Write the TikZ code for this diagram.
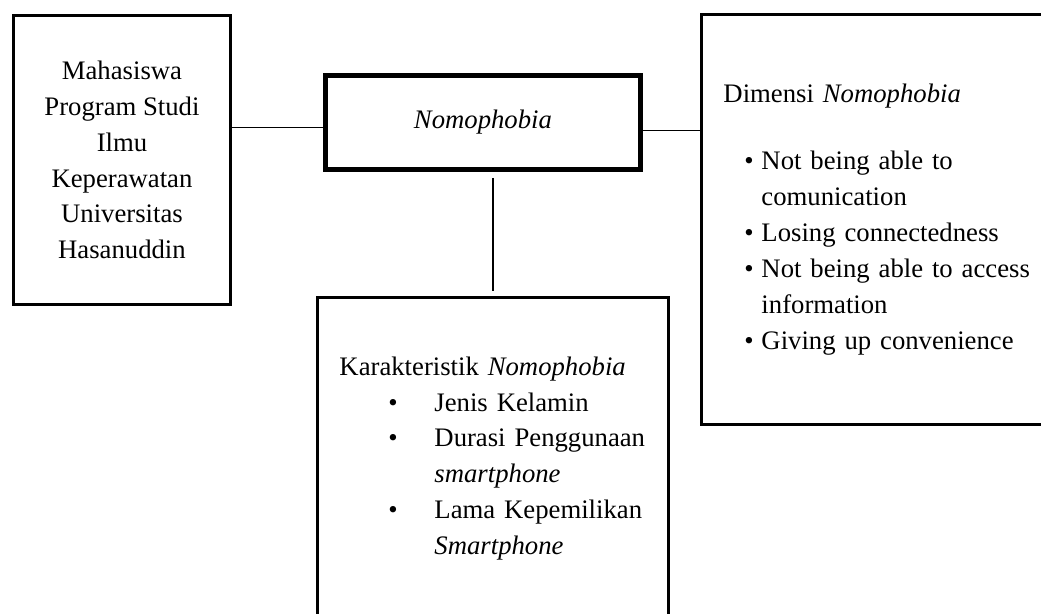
\documentclass[tikz,border=0pt]{standalone}
\usepackage{fontspec}
\setmainfont{Liberation Serif}
\begin{document}
\begin{tikzpicture}[x=0.02cm,y=-0.02cm,
  kotak/.style={draw,line width=1.7pt,inner sep=0pt,anchor=north west,
    font=\fontsize{15.2}{20.4}\selectfont},
  garis/.style={line width=1.1pt}]
\useasboundingbox (0,0) rectangle (1041,614);
\clip (0,0) rectangle (1041,614);

\node[kotak,minimum width=4.34cm,minimum height=5.78cm,align=center] (mhs) at (12,14)
  {Mahasiswa\\Program Studi\\Ilmu\\Keperawatan\\Universitas\\Hasanuddin};
\node[kotak,line width=2.85pt,minimum width=6.3cm,minimum height=1.88cm] (nomo) at (323,73)
  {\textit{Nomophobia}};
\node[kotak,minimum width=7.2cm,minimum height=8.2cm,text width=6.32cm,align=left] (dim) at (700,13)
  {Dimensi \textit{Nomophobia}\\[18pt]
   \hspace*{0.42cm}\makebox[0.34cm][l]{\textbullet}Not being able to\\
   \hspace*{0.76cm}comunication\\
   \hspace*{0.42cm}\makebox[0.34cm][l]{\textbullet}Losing connectedness\\
   \hspace*{0.42cm}\makebox[0.34cm][l]{\textbullet}Not being able to access\\
   \hspace*{0.76cm}information\\
   \hspace*{0.42cm}\makebox[0.34cm][l]{\textbullet}Giving up convenience};
\node[kotak,minimum width=7.02cm,minimum height=6.44cm,text width=6.14cm,align=left] (kar) at (316,296)
  {Karakteristik \textit{Nomophobia}\\
   \hspace*{0.98cm}\makebox[0.92cm][l]{\textbullet}Jenis Kelamin\\
   \hspace*{0.98cm}\makebox[0.92cm][l]{\textbullet}Durasi Penggunaan\\
   \hspace*{1.9cm}\textit{smartphone}\\
   \hspace*{0.98cm}\makebox[0.92cm][l]{\textbullet}Lama Kepemilikan\\
   \hspace*{1.9cm}\textit{Smartphone}};

\coordinate (kiri) at ([yshift=-0.1cm]nomo.west);
\coordinate (kanan) at ([yshift=-0.16cm]nomo.east);
\coordinate (atas) at (nomo.south -| kar.north);
\draw[garis] (kiri) -- (kiri -| mhs.east);
\draw[garis] (kanan) -- (kanan -| dim.west);
\draw[garis] ([yshift=-0.12cm]atas) -- ([yshift=0.1cm]kar.north);
\end{tikzpicture}
\end{document}
